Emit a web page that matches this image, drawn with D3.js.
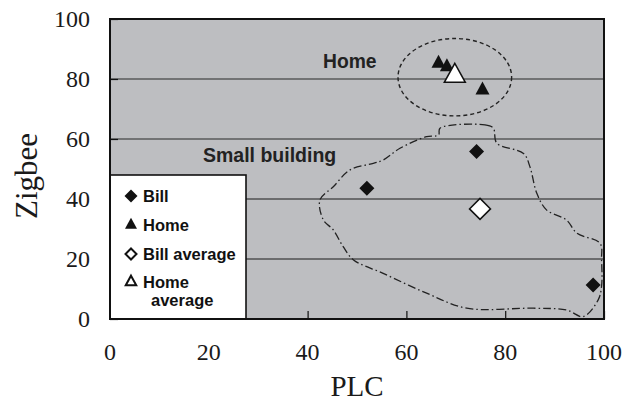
<!DOCTYPE html>
<html>
<head>
<meta charset="utf-8">
<script src="https://cdn.jsdelivr.net/npm/d3@7"></script>
<style>
  html, body { margin: 0; padding: 0; background: #fff; }
  svg { display: block; }
</style>
</head>
<body>
<svg id="chart" width="638" height="403"></svg>
<script>
// Bill sites (PLC %, Zigbee %)
const billPLC = [52, 74.2, 97.8];
const billZigbee = [43.6, 55.8, 11.3];
// Home sites
const homePLC = [66.5, 68.2, 75.4];
const homeZigbee = [85.2, 84.0, 76.3];
// Averages
const billAvg = [74.9, 36.7];
const homeAvg = [69.8, 81.0];

const xTicks = [0, 20, 40, 60, 80, 100];
const yTicks = [0, 20, 40, 60, 80, 100];

// Home cluster ellipse: center and radii in data units
const homeEllipse = { cx: 69.8, cy: 80.6, rx: 11.5, ry: 12.9 };

// Small-building cluster outline (PLC, Zigbee)
const buildingPLC = [66.8, 75.9, 77.6, 78.3, 83.7, 85.0, 86.4, 88.4, 92.4, 94.5, 99.2, 99.5, 99.5, 98.8, 95.8,
  92.4, 85.7, 72.2, 64.1, 55.3, 49.3, 47.2, 45.2, 43.2, 42.5, 45.2, 48.6, 53.3, 55.3, 58.7, 64.1, 66.5];
const buildingZigbee = [63.6, 64.7, 63.6, 58.6, 55.2, 50.8, 41.9, 36.3, 33.0, 28.6, 25.2, 19.7, 10.8, 6.3, 0.8,
  3.0, 3.6, 3.6, 8.6, 15.2, 19.7, 24.1, 29.7, 33.0, 39.7, 44.1, 49.7, 51.9, 53.0, 56.9, 60.8, 61.3];

const legendItems = ["Bill", "Home", "Bill average", "Home average"];

const svg = d3.select("#chart");
const margin = { left: 110, right: 34, top: 19, bottom: 84 };
const W = 638, H = 403;
const x = d3.scaleLinear().domain([0, 100]).range([margin.left, W - margin.right]);
const y = d3.scaleLinear().domain([0, 100]).range([H - margin.bottom, margin.top]);

const serif = "'Liberation Serif', 'Times New Roman', serif";
const sans = "'Liberation Sans', Arial, Helvetica, sans-serif";

// plot background
svg.append("rect")
  .attr("x", x(0)).attr("y", y(100))
  .attr("width", x(100) - x(0)).attr("height", y(0) - y(100))
  .attr("fill", "#bdbec1");

// horizontal gridlines
svg.append("g").selectAll("line")
  .data(yTicks.filter(d => d > 0 && d < 100))
  .join("line")
  .attr("x1", x(0)).attr("x2", x(100))
  .attr("y1", d => y(d)).attr("y2", d => y(d))
  .attr("stroke", d => d >= 60 ? "#5a5a5a" : "#1a1a1a")
  .attr("stroke-width", d => d >= 60 ? 1.4 : 1);

// inward ticks
const yAxis = d3.axisRight(y).tickValues(yTicks).tickSize(8).tickFormat("");
svg.append("g").attr("transform", `translate(${x(0)},0)`).call(yAxis)
  .call(g => g.select(".domain").remove())
  .selectAll("line").attr("stroke", "#111").attr("stroke-width", 1.2);
const xAxis = d3.axisTop(x).tickValues(xTicks).tickSize(8).tickFormat("");
svg.append("g").attr("transform", `translate(0,${y(0)})`).call(xAxis)
  .call(g => g.select(".domain").remove())
  .selectAll("line").attr("stroke", "#111").attr("stroke-width", 1.2);

// tick labels
svg.append("g").selectAll("text").data(yTicks).join("text")
  .attr("x", x(0) - 20).attr("y", d => y(d)).attr("dy", "0.35em")
  .attr("text-anchor", "end")
  .attr("font-family", serif).attr("font-size", 24).attr("fill", "#1a1a1a")
  .text(d => d);
svg.append("g").selectAll("text").data(xTicks).join("text")
  .attr("x", d => x(d)).attr("y", y(0) + 41)
  .attr("text-anchor", "middle")
  .attr("font-family", serif).attr("font-size", 24).attr("fill", "#1a1a1a")
  .text(d => d);

// axis titles
svg.append("text")
  .attr("x", 357).attr("y", 396)
  .attr("text-anchor", "middle")
  .attr("font-family", serif).attr("font-size", 29).attr("fill", "#1a1a1a")
  .text("PLC");
svg.append("text")
  .attr("transform", `translate(37,176) rotate(-90)`)
  .attr("text-anchor", "middle")
  .attr("font-family", serif).attr("font-size", 31).attr("fill", "#1a1a1a")
  .text("Zigbee");

// home cluster ellipse
const ex = x(homeEllipse.cx), ey = y(homeEllipse.cy);
svg.append("ellipse")
  .attr("cx", ex).attr("cy", ey)
  .attr("rx", x(homeEllipse.rx) - x(0)).attr("ry", y(0) - y(homeEllipse.ry))
  .attr("fill", "none").attr("stroke", "#222").attr("stroke-width", 1.4)
  .attr("stroke-dasharray", "4,3");

// small-building outline
const outline = d3.line()
  .x(d => x(d[0])).y(d => y(d[1]))
  .curve(d3.curveCatmullRomClosed.alpha(0.5));
svg.append("path")
  .datum(d3.zip(buildingPLC, buildingZigbee))
  .attr("d", outline)
  .attr("fill", "none").attr("stroke", "#222").attr("stroke-width", 1.3)
  .attr("stroke-dasharray", "8,3,1.5,3");

// cluster labels
svg.append("text").attr("x", 323).attr("y", 68)
  .attr("font-family", sans).attr("font-weight", "bold").attr("font-size", 19.3).attr("fill", "#222")
  .text("Home");
svg.append("text").attr("x", 203).attr("y", 162)
  .attr("font-family", sans).attr("font-weight", "bold").attr("font-size", 19.5).attr("fill", "#222")
  .text("Small building");

// markers
const diamond = r => `M0,${-r}L${r},0L0,${r}L${-r},0Z`;
const triangle = (w, h) => `M0,${-h * 2 / 3}L${w / 2},${h / 3}L${-w / 2},${h / 3}Z`;

svg.append("g").selectAll("path").data(d3.zip(billPLC, billZigbee)).join("path")
  .attr("transform", d => `translate(${x(d[0])},${y(d[1])})`)
  .attr("d", diamond(7.5)).attr("fill", "#111");
svg.append("g").selectAll("path").data(d3.zip(homePLC, homeZigbee)).join("path")
  .attr("transform", d => `translate(${x(d[0])},${y(d[1])})`)
  .attr("d", triangle(14, 13)).attr("fill", "#111");
svg.append("path")
  .attr("transform", `translate(${x(billAvg[0])},${y(billAvg[1])})`)
  .attr("d", diamond(10.5)).attr("fill", "#fff").attr("stroke", "#111").attr("stroke-width", 1.5);
svg.append("path")
  .attr("transform", `translate(${x(homeAvg[0])},${y(homeAvg[1])})`)
  .attr("d", triangle(21, 19)).attr("fill", "#fff").attr("stroke", "#111").attr("stroke-width", 1.5);

// legend
const lg = svg.append("g");
lg.append("rect").attr("x", x(0)).attr("y", 175).attr("width", 136).attr("height", y(0) - 175)
  .attr("fill", "#fff").attr("stroke", "#111").attr("stroke-width", 1.6);
const legendY = [196, 225, 254, 282];
const legendSym = [
  { d: diamond(6.5), fill: "#111", stroke: "none" },
  { d: triangle(12, 11), fill: "#111", stroke: "none" },
  { d: diamond(5.5), fill: "#fff", stroke: "#111" },
  { d: triangle(10.5, 9.5), fill: "#fff", stroke: "#111" }
];
legendItems.forEach((name, i) => {
  lg.append("path")
    .attr("transform", `translate(131,${legendY[i]})`)
    .attr("d", legendSym[i].d).attr("fill", legendSym[i].fill)
    .attr("stroke", legendSym[i].stroke).attr("stroke-width", 2);
  const t = lg.append("text").attr("x", 143).attr("y", legendY[i] + 6)
    .attr("font-family", sans).attr("font-weight", "bold").attr("font-size", 16.5).attr("fill", "#111");
  if (name === "Home average") {
    t.text("Home");
    lg.append("text").attr("x", 151).attr("y", legendY[i] + 24)
      .attr("font-family", sans).attr("font-weight", "bold").attr("font-size", 16.5).attr("fill", "#111")
      .text("average");
  } else {
    t.text(name);
  }
});

// plot frame
svg.append("rect")
  .attr("x", x(0)).attr("y", y(100))
  .attr("width", x(100) - x(0)).attr("height", y(0) - y(100))
  .attr("fill", "none").attr("stroke", "#111").attr("stroke-width", 2);
</script>
</body>
</html>
